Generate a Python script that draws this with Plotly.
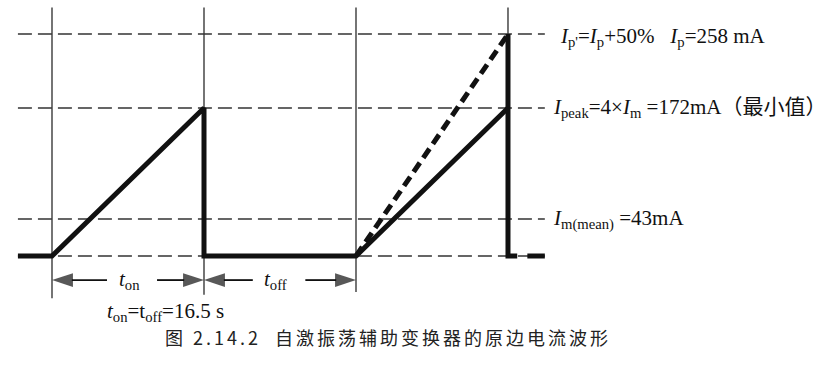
import plotly.graph_objects as go

# ---------------- data ----------------
period_marks = [0, 16.5, 33, 49.5]          # t boundaries (t_on = t_off = 16.5)
grid_bottom = [-49, -45, -42, 0]            # how far each vertical guide extends down (mA units)
grid_top = 289
ref_levels = [258, 172, 43, 0]              # Ip', Ipeak, Im(mean), baseline (mA)
ref_t = [-3.7, 53.5]

wave_t = [-3.7, 0, 16.5, 16.5, 33, 49.5]    # solid primary current
wave_i = [0, 0, 172, 0, 0, 172]
boost_t = [33, 49.5]                        # dashed ramp to Ip'
boost_i = [0, 258]
fall_t = [49.5, 49.5, 50.5]
fall_i = [258, 0, 0]
tail_t = [51.6, 53.5]
tail_i = [0, 0]

dim_level = -28
arrows = [(5.97, 0), (11.4, 16.5), (21.8, 16.5), (27.5, 33)]  # (tail, head)
dim_labels = [(8.4, "<i>t</i><sub>on</sub>"), (24.3, "<i>t</i><sub>off</sub>")]

right_labels = [
    (258, 54.9, -3, "<i>I</i><sub>p'</sub>=<i>I</i><sub>p</sub>+50%\u00a0\u00a0\u00a0<i>I</i><sub>p</sub>=258 mA"),
    (172, 54.2, 0, "<i>I</i><sub>peak</sub>=4×<i>I</i><sub>m</sub> =172mA（最小值）"),
    (43, 54.2, 0, "<i>I</i><sub>m(mean)</sub> =43mA"),
]
timing_text = "<i>t</i><sub>on</sub>=t<sub>off</sub>=16.5 s"
caption = "图 2.14.2\u00a0\u00a0自激振荡辅助变换器的原边电流波形"

# ---------------- figure ----------------
PX_T = 9.212
PX_I = 0.86
x_range = [-52 / PX_T, (829 - 52) / PX_T]
y_range = [(256 - 368) / PX_I, 256 / PX_I]

serif = "Liberation Serif, Times New Roman, Noto Sans CJK SC, serif"

fig = go.Figure()

for t, yb in zip(period_marks, grid_bottom):
    fig.add_trace(go.Scatter(x=[t, t], y=[grid_top, yb], mode="lines",
                             line=dict(color="#2a2a2a", width=1.3), hoverinfo="skip"))

for lv in ref_levels:
    fig.add_trace(go.Scatter(x=ref_t, y=[lv, lv], mode="lines",
                             line=dict(color="#333", width=1.5, dash="14px,6px"), hoverinfo="skip"))

fig.add_trace(go.Scatter(x=wave_t, y=wave_i, mode="lines",
                         line=dict(color="#111", width=5), hoverinfo="skip"))
fig.add_trace(go.Scatter(x=boost_t, y=boost_i, mode="lines",
                         line=dict(color="#111", width=5, dash="11px,6px"), hoverinfo="skip"))
fig.add_trace(go.Scatter(x=fall_t, y=fall_i, mode="lines",
                         line=dict(color="#111", width=5), hoverinfo="skip"))
fig.add_trace(go.Scatter(x=tail_t, y=tail_i, mode="lines",
                         line=dict(color="#111", width=5), hoverinfo="skip"))

for tail, head in arrows:
    fig.add_trace(go.Scatter(
        x=[tail, head], y=[dim_level, dim_level], mode="lines+markers",
        line=dict(color="#111", width=1.8),
        marker=dict(symbol="arrow", size=[0, 22], color="#111", angleref="previous",
                    line=dict(width=0)),
        hoverinfo="skip"))

for t, txt in dim_labels:
    fig.add_annotation(x=t, y=dim_level, xref="x", yref="y", text=txt, showarrow=False,
                       font=dict(family=serif, size=21, color="#111"), xanchor="center", yanchor="middle")

for lv, tx, ys, txt in right_labels:
    fig.add_annotation(x=tx, y=lv, xref="x", yref="y", text=txt, showarrow=False, yshift=ys,
                       font=dict(family=serif, size=21, color="#111"), xanchor="left", yanchor="middle")

fig.add_annotation(x=5.8, y=-65, xref="x", yref="y", text=timing_text, showarrow=False,
                   font=dict(family=serif, size=21, color="#111"), xanchor="left", yanchor="middle")

fig.add_annotation(x=388 / 829, y=1 - 337 / 368, xref="paper", yref="paper", text=caption,
                   showarrow=False, font=dict(family="Noto Sans CJK SC", size=18, color="#222"),
                   xanchor="center", yanchor="middle")

fig.update_layout(
    width=829, height=368, margin=dict(l=0, r=0, t=0, b=0),
    paper_bgcolor="white", plot_bgcolor="white", showlegend=False,
    xaxis=dict(visible=False, range=x_range, fixedrange=True),
    yaxis=dict(visible=False, range=y_range, fixedrange=True),
)

post = """
document.body.style.margin = '0';
document.body.style.overflow = 'hidden';
document.querySelectorAll('text.annotation-text').forEach(function (t) {
  if (t.textContent.indexOf('\u81ea\u6fc0') >= 0) { t.setAttribute('letter-spacing', '3px'); }
});
"""

fig.write_html("out.html", config={"displayModeBar": False}, post_script=post)
